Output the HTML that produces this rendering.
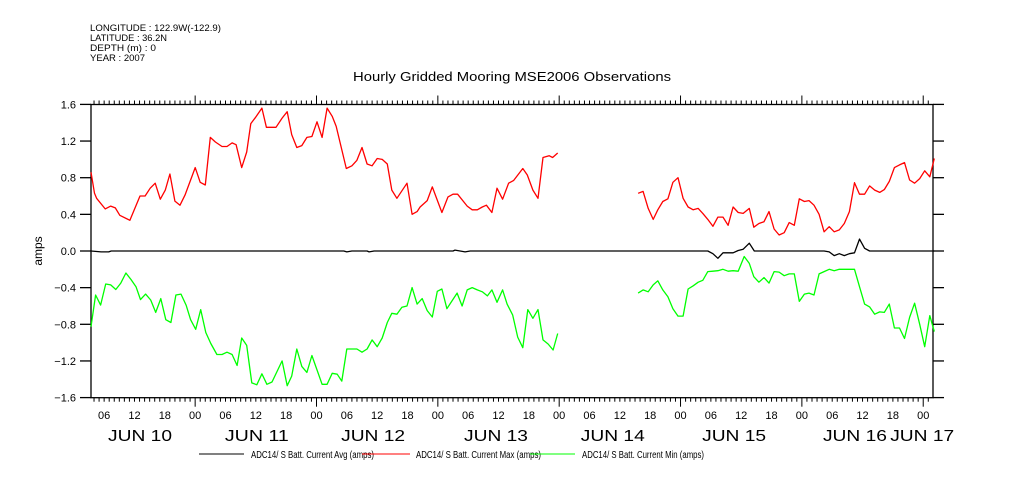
<!DOCTYPE html>
<html><head><meta charset="utf-8"><style>
body{margin:0;background:#fff;width:1009px;height:504px;overflow:hidden}
svg{display:block;font-family:"Liberation Sans","DejaVu Sans",sans-serif}
</style></head><body>
<svg id="chart" width="1009" height="504" viewBox="0 0 1009 504">
<g font-size="9" fill="#000">
<text x="90" y="31" textLength="131" lengthAdjust="spacingAndGlyphs">LONGITUDE : 122.9W(-122.9)</text>
<text x="90" y="41" textLength="77" lengthAdjust="spacingAndGlyphs">LATITUDE : 36.2N</text>
<text x="90" y="51" textLength="66" lengthAdjust="spacingAndGlyphs">DEPTH (m) : 0</text>
<text x="90" y="61" textLength="55" lengthAdjust="spacingAndGlyphs">YEAR : 2007</text>
</g>
<text x="353" y="81" font-size="13" textLength="318" lengthAdjust="spacingAndGlyphs">Hourly Gridded Mooring MSE2006 Observations</text>
<text x="0" y="0" font-size="12" text-anchor="middle" transform="translate(42,251) rotate(-90)">amps</text>
<g id="axes"></g>
<g id="series"></g>
<g font-size="10">
<line x1="199" y1="454" x2="244" y2="454" stroke="#000"/>
<text x="251" y="458" textLength="123" lengthAdjust="spacingAndGlyphs">ADC14/ S Batt. Current Avg (amps)</text>
<line x1="362" y1="454" x2="410" y2="454" stroke="#f00"/>
<text x="416" y="458" textLength="125" lengthAdjust="spacingAndGlyphs">ADC14/ S Batt. Current Max (amps)</text>
<line x1="530" y1="454" x2="575" y2="454" stroke="#0f0"/>
<text x="582" y="458" textLength="122" lengthAdjust="spacingAndGlyphs">ADC14/ S Batt. Current Min (amps)</text>
</g>
</svg>
<script>
// hours since first observation (Jun 10 ~03:24)
const maxHours=[0,0.7,1.1,2.8,3.9,4.8,5.7,7.7,9.7,10.7,11.7,12.7,13.7,14.7,15.6,16.6,17.6,18.6,20.6,21.6,22.6,23.6,24.6,25.9,26.9,27.9,28.7,29.8,30.8,31.6,32.5,33.8,34.7,36.6,37.8,38.8,39.7,40.7,41.7,42.7,43.7,44.7,45.7,46.7,47.7,48.5,50.5,51.6,52.6,53.6,54.6,55.6,56.6,57.6,58.6,59.5,60.5,62.5,63.5,64.5,65.1,66.5,67.5,69.4,70.6,71.6,72.5,74.4,75.4,76.4,77.4,78.2,79.3,80.3,81.4,82.6,83.6,85.4,86.3,87.4,88.4,89.4,90.6,91.3,92.3,null,108.2,109.2,110.2,111.2,112.1,113.1,114.1,115.1,116.1,117.1,118.1,119.1,120.1,121,122,123,124,125,126,127,128,129,130.2,131.1,132.1,133.1,134.1,135.1,136.1,137.1,138.1,139.1,140.1,141.1,142,143,144,145,146,147,148,149,150,151,152,153,154,155,156,156.9,157.9,158.9,159.9,160.9,161.9,162.9,163.9,164.9,165.9,166.8];
const maxValues=[0.86,0.63,0.575,0.46,0.49,0.47,0.39,0.335,0.6,0.6,0.685,0.74,0.565,0.665,0.84,0.545,0.5,0.61,0.91,0.75,0.72,1.24,1.19,1.14,1.14,1.18,1.16,0.91,1.08,1.39,1.455,1.56,1.35,1.35,1.45,1.52,1.27,1.13,1.15,1.24,1.25,1.41,1.24,1.56,1.47,1.36,0.9,0.93,0.99,1.13,0.95,0.93,1.01,1.0,0.95,0.665,0.575,0.74,0.4,0.43,0.48,0.55,0.7,0.42,0.59,0.62,0.62,0.49,0.45,0.45,0.48,0.5,0.42,0.685,0.565,0.74,0.77,0.9,0.83,0.665,0.575,1.02,1.04,1.02,1.07,null,0.63,0.65,0.465,0.345,0.45,0.54,0.57,0.75,0.8,0.575,0.48,0.45,0.465,0.41,0.345,0.27,0.37,0.37,0.28,0.48,0.42,0.41,0.465,0.26,0.3,0.32,0.43,0.24,0.175,0.2,0.31,0.28,0.57,0.54,0.55,0.5,0.4,0.21,0.265,0.21,0.23,0.3,0.43,0.745,0.62,0.62,0.71,0.665,0.64,0.67,0.76,0.91,0.94,0.965,0.775,0.74,0.79,0.875,0.81,1.01];
const minHours=[0,0.9,1.9,2.9,3.9,4.9,5.9,6.9,7.9,8.9,9.8,10.8,11.8,12.8,13.8,14.8,15.8,16.8,17.8,18.8,19.7,20.7,21.7,22.7,23.7,24.9,25.9,26.9,27.9,28.9,29.8,30.8,31.8,32.8,33.8,34.8,35.8,37.8,38.8,39.7,40.7,41.7,42.7,43.7,45.7,46.7,47.7,48.7,49.6,50.6,51.6,52.6,53.6,54.6,55.6,56.6,57.6,58.6,59.5,60.5,61.5,62.5,63.5,64.5,65.5,66.5,67.5,68.5,69.4,70.4,71.4,72.4,73.4,74.4,75.4,76.4,77.4,78.4,79.3,80.3,81.4,82.3,83.4,84.4,85.4,86.4,87.4,88.4,89.4,90.4,91.4,92.3,null,108.2,109.2,110.2,111.2,112.1,113.1,114.1,115.1,116.1,117.1,118.1,119.1,120.1,121,122,123,124,125,126,127,128,129.2,130.2,131.1,132.1,133.1,134.1,135.1,136.1,137.1,138.1,139.1,140.1,141.1,142,143,144,145,146,147,148,151,152,153,154,155,156,156.9,157.9,158.9,159.9,160.9,161.9,162.9,163.9,164.9,165.9,166.8];
const minValues=[-0.826,-0.48,-0.59,-0.36,-0.37,-0.42,-0.35,-0.24,-0.31,-0.39,-0.53,-0.47,-0.535,-0.67,-0.52,-0.75,-0.78,-0.48,-0.47,-0.59,-0.75,-0.855,-0.64,-0.89,-1.01,-1.13,-1.13,-1.105,-1.13,-1.25,-0.95,-1.03,-1.44,-1.46,-1.34,-1.455,-1.43,-1.2,-1.47,-1.365,-1.07,-1.26,-1.325,-1.14,-1.455,-1.455,-1.335,-1.345,-1.42,-1.07,-1.07,-1.07,-1.105,-1.07,-0.97,-1.045,-0.95,-0.78,-0.68,-0.69,-0.615,-0.6,-0.4,-0.58,-0.52,-0.65,-0.72,-0.44,-0.415,-0.63,-0.545,-0.46,-0.6,-0.425,-0.4,-0.425,-0.445,-0.49,-0.425,-0.56,-0.425,-0.58,-0.7,-0.94,-1.055,-0.64,-0.735,-0.64,-0.97,-1.015,-1.08,-0.9,null,-0.46,-0.425,-0.445,-0.37,-0.325,-0.425,-0.5,-0.63,-0.71,-0.71,-0.415,-0.38,-0.34,-0.32,-0.225,-0.22,-0.215,-0.2,-0.22,-0.215,-0.22,-0.06,-0.135,-0.28,-0.34,-0.29,-0.35,-0.225,-0.23,-0.27,-0.25,-0.25,-0.55,-0.47,-0.46,-0.48,-0.25,-0.225,-0.2,-0.215,-0.2,-0.2,-0.39,-0.58,-0.61,-0.69,-0.665,-0.67,-0.58,-0.84,-0.84,-0.955,-0.725,-0.57,-0.8,-1.045,-0.705,-0.88];
const avgHours=[0,2,3.5,4,50,50.6,51.6,54.6,55,56,71.6,72,73,74,75,122,123,124,125,127,128,129,130.2,131.2,145,146,147,148,149,150,151,152,153,154,166.8];
const avgValues=[0,-0.01,-0.01,0,0,-0.01,0,0,-0.01,0,0,0.01,0,-0.01,0,0,-0.03,-0.08,-0.02,-0.02,0.005,0.02,0.085,0,0,-0.01,-0.05,-0.03,-0.05,-0.03,-0.02,0.13,0.03,0,0];
const yTicks=[1.6,1.2,0.8,0.4,0.0,-0.4,-0.8,-1.2,-1.6];
const yTickLabels=["1.6","1.2","0.8","0.4","0.0","-0.4","-0.8","-1.2","-1.6"];
const hourLabels=["00","06","12","18"];
const dayLabels=["JUN 10","JUN 11","JUN 12","JUN 13","JUN 14","JUN 15","JUN 16","JUN 17"];
const dayLabelHours=[13.1,36.2,59.2,83.5,106.6,130.6,154.5,167.8];

const NS="http://www.w3.org/2000/svg";
const L=91,R=933,T=104.5,B=397.7,START=3.4,PXH=5.056;
const xS=h=>L+h*PXH;
const xClock=c=>L+(c-START)*PXH;
const yS=v=>251-v*(B-T)/3.2;
function mk(tag,attrs,parent){const e=document.createElementNS(NS,tag);for(const k in attrs)e.setAttribute(k,attrs[k]);parent.appendChild(e);return e;}
const ax=document.getElementById('axes'), se=document.getElementById('series');
const frame=mk('rect',{x:L,y:T,width:R-L,height:B-T,fill:'none',stroke:'#000','stroke-width':1.3},ax);


yTicks.forEach((v,i)=>{
  const y=yS(v);
  const t1=mk('line',{x1:L-11,y1:y,x2:L,y2:y,stroke:'#000','stroke-width':1.3},ax);
  
  
  const t2=mk('line',{x1:R,y1:y,x2:R+11,y2:y,stroke:'#000','stroke-width':1.3},ax);
  
  
  const lb=mk('text',{x:L-15,y:y+4,'font-size':11,'text-anchor':'end'},ax);
  lb.textContent=yTickLabels[i].replace('-','\u2212');
  
  
});
for(let c=4;c<=170;c++){
  const x=xClock(c); if(x<L||x>R)continue;
  const major=c%24===0;
  const len=major?9:4;
  const a=mk('line',{x1:x,y1:T,x2:x,y2:T-len,stroke:'#000'},ax);
  
  
  const b=mk('line',{x1:x,y1:B,x2:x,y2:B+len,stroke:'#000'},ax);
  
  
  if(c%6===0){
    const lb=mk('text',{x:x,y:419,'font-size':11,'text-anchor':'middle'},ax);
    lb.textContent=hourLabels[(c%24)/6];
    
    
  }
}
dayLabels.forEach((d,i)=>{
  const x=xClock(dayLabelHours[i]);
  const lb=mk('text',{x:x-32,y:441,'font-size':16,textLength:64,lengthAdjust:'spacingAndGlyphs'},ax);
  lb.textContent=d;
  
  
});
function series(hours,vals,color,name){
  let d='',pen=false;
  hours.forEach((h,i)=>{
    if(h===null||vals[i]===null){pen=false;return;}
    d+=(pen?'L':'M')+xS(h).toFixed(1)+' '+yS(vals[i]).toFixed(1)+' ';pen=true;
  });
  const p=mk('path',{d:d,fill:'none',stroke:color,'stroke-width':1.3,'stroke-linejoin':'round'},se);
  
  
}
series(avgHours,avgValues,'#000','avg-line');
series(maxHours,maxValues,'#f00','max-line');
series(minHours,minValues,'#0f0','min-line');
</script>
</body></html>
